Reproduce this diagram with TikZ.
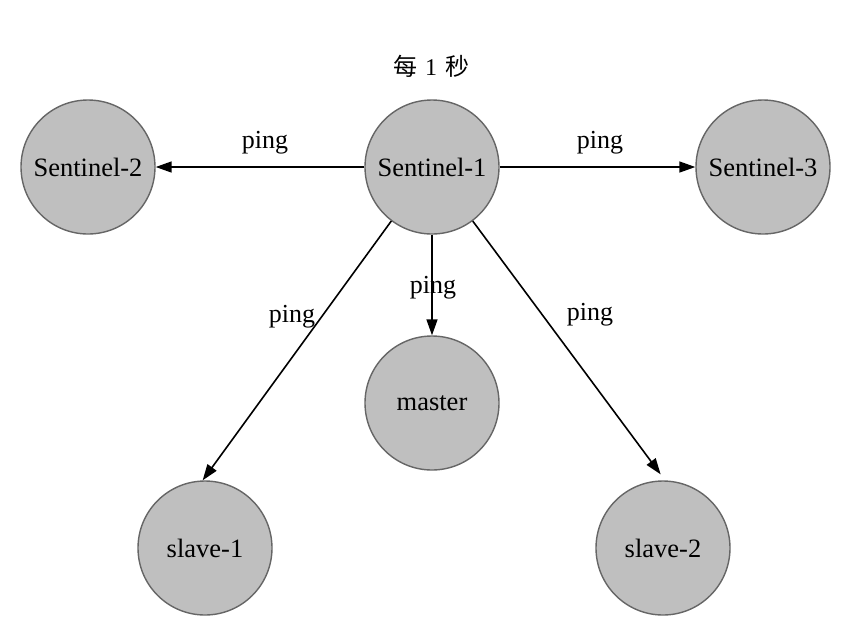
\documentclass[tikz,border=0pt]{standalone}
\usepackage{fontspec}
\setmainfont{Liberation Serif}
\newfontfamily\cjk{Noto Sans CJK SC}
\usetikzlibrary{arrows.meta}
\begin{document}
\begin{tikzpicture}[x=1pt,y=-1pt,
  nd/.style={circle,draw=black!60,line width=1.4pt,fill=black!25,minimum size=134pt,inner sep=0pt,font=\fontsize{26.5}{30}\selectfont},
  lbl/.style={anchor=base,inner sep=0pt,font=\fontsize{26}{30}\selectfont},
  con/.style={line width=1.6pt,-{Triangle[length=16pt,width=11pt]}}]
\useasboundingbox (0,0) rectangle (860,625);
\node[nd] (s1) at (432,167) {Sentinel-1};
\node[nd] (s2) at (88,167) {Sentinel-2};
\node[nd] (s3) at (763,167) {Sentinel-3};
\node[nd] (m) at (432,403) {master};
\node[nd] (sl1) at (205,548) {slave-1};
\node[nd] (sl2) at (663,548) {slave-2};
\node[lbl,font=\fontsize{24}{28}\selectfont] (t) at (431,75) {{\cjk 每}\hspace{8pt}1\hspace{8pt}{\cjk 秒}};
\draw[con] (s1) -- (s2);
\draw[con] (s1) -- (s3);
\draw[con] (s1) -- (m);
\draw[con] (s1.233) -- (sl1.92);
\draw[con] (s1.307) -- ([yshift=6pt]sl2.92);
\node[lbl] (p1) at (265,148) {ping};
\node[lbl] (p2) at (600,148) {ping};
\node[lbl] (p3) at (433,293) {ping};
\node[lbl] (p4) at (292,322) {ping};
\node[lbl] (p5) at (590,320) {ping};
\end{tikzpicture}
\end{document}
